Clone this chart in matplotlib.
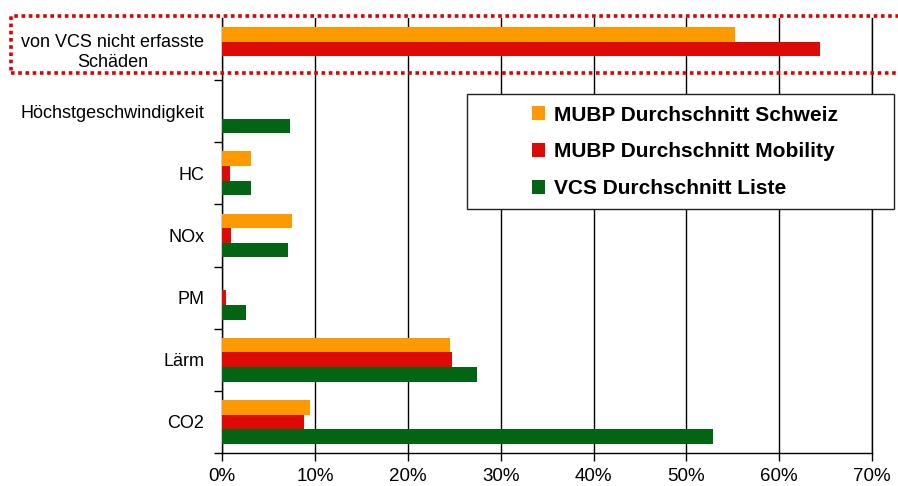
import numpy as np
import matplotlib
matplotlib.use('Agg')
import matplotlib.pyplot as plt
from matplotlib.patches import Rectangle
from matplotlib.ticker import PercentFormatter

plt.rcParams['font.family'] = ['Liberation Sans', 'DejaVu Sans']

# categories from bottom to top
categories = ['CO2', 'Lärm', 'PM', 'NOx', 'HC', 'Höchstgeschwindigkeit',
              'von VCS nicht erfasste\nSchäden']
schweiz = [9.45, 24.5, 0.0, 7.5, 3.1, 0.0, 55.25]
mobility = [8.8, 24.7, 0.4, 0.95, 0.85, 0.0, 64.4]
vcs_liste = [52.9, 27.45, 2.55, 7.1, 3.1, 7.3, np.nan]

labels = ['MUBP Durchschnitt Schweiz', 'MUBP Durchschnitt Mobility', 'VCS Durchschnitt Liste']
colors = ['#ff9900', '#dd0a05', '#036414']

W, H = 898, 486
fig = plt.figure(figsize=(W / 100, H / 100), dpi=100)
ax = fig.add_axes([222.3 / W, 33 / H, (872 - 222.3) / W, (453 - 18) / H])

y = np.arange(len(categories))
h = 0.235
ax.barh(y + h, schweiz, height=h, color=colors[0], label=labels[0], zorder=3)
ax.barh(y, mobility, height=h, color=colors[1], label=labels[1], zorder=3)
ax.barh(y - h, vcs_liste, height=h, color=colors[2], label=labels[2], zorder=3)

ax.set_xlim(0, 70)
ax.set_ylim(-0.5, len(categories) - 0.5)
ax.set_xticks(np.arange(0, 71, 10))
ax.xaxis.set_major_formatter(PercentFormatter(decimals=0))
ax.grid(axis='x', color='black', linewidth=1, zorder=0)

ax.set_yticks(y)
ax.set_yticklabels(categories, fontsize=13, multialignment='center')
ax.set_yticks(np.arange(-0.5, len(categories) - 1, 1), minor=True)
ax.tick_params(axis='y', which='major', length=0, pad=13)
ax.tick_params(axis='y', which='minor', length=6, width=1, color='black')
ax.tick_params(axis='x', length=6, width=1, labelsize=13.5, pad=5)

ax.spines['top'].set_visible(False)
for s in ['left', 'bottom', 'right']:
    ax.spines[s].set_linewidth(1)
    ax.spines[s].set_color('black')

# legend box drawn separately so it can be as wide as in the original
fig.patches.append(Rectangle((467 / W, 1 - 209 / H), (894 - 467) / W, 115 / H,
                             transform=fig.transFigure, facecolor='white',
                             edgecolor='#222222', linewidth=1, zorder=5))
handles, labs = ax.get_legend_handles_labels()
leg = fig.legend(handles, labs, loc='upper left',
                 bbox_to_anchor=(513 / W, 1 - 87 / H),
                 frameon=False, prop={'weight': 'bold', 'size': 15},
                 handlelength=0.65, handleheight=0.65, handletextpad=0.4,
                 labelspacing=0.85, borderpad=0.4)
leg.set_zorder(6)

# dotted highlight box around the first (top) category
fig.patches.append(Rectangle((11 / W, 1 - 73 / H), 1.0, 57 / H,
                             transform=fig.transFigure, fill=False,
                             edgecolor='#e00000', linewidth=2.6,
                             linestyle=(0, (1, 1)), clip_on=False))

fig.savefig('out.png', dpi=100)
